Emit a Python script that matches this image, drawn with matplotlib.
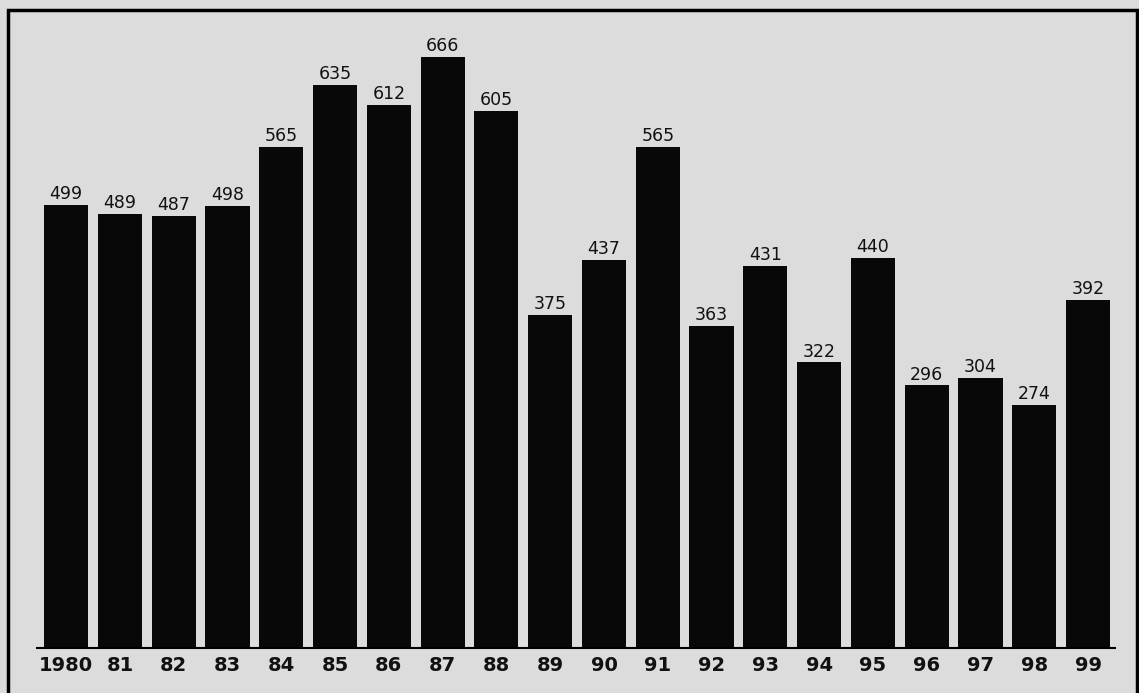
import matplotlib.pyplot as plt
from matplotlib.patches import Rectangle

years = ['1980', '81', '82', '83', '84', '85', '86', '87', '88', '89',
         '90', '91', '92', '93', '94', '95', '96', '97', '98', '99']
values = [499, 489, 487, 498, 565, 635, 612, 666, 605, 375,
          437, 565, 363, 431, 322, 440, 296, 304, 274, 392]

bg = '#dcdcdc'
fig = plt.figure(figsize=(11.39, 6.93), dpi=100, facecolor=bg)
ax = fig.add_axes([8 / 1139, 45 / 693, 1129 / 1139, 638 / 693])
ax.set_facecolor(bg)

x = list(range(len(values)))
ax.bar(x, values, width=0.82, color='#080808', edgecolor='none')

for xi, v in zip(x, values):
    ax.text(xi, v + 2, str(v), ha='center', va='bottom', fontsize=12.5,
            color='#111111')

ax.set_xlim(-1.08, 19.91)
ax.set_ylim(0, 719)
ax.set_xticks(x)
ax.set_xticklabels(years, fontsize=14, fontweight='bold', color='#111111')
ax.tick_params(axis='x', length=0, pad=6)
ax.set_yticks([])
for s in ['top', 'left', 'right']:
    ax.spines[s].set_visible(False)
ax.spines['bottom'].set_linewidth(1.5)
ax.spines['bottom'].set_bounds(-0.55, 19.5)

# outer frame of the scanned panel
fig.patches.append(Rectangle((8 / 1139, -0.01), 1129 / 1139, 0.9956,
                             transform=fig.transFigure, fill=False,
                             edgecolor='black', linewidth=2.5))

fig.savefig('out.png', dpi=100, facecolor=bg)
